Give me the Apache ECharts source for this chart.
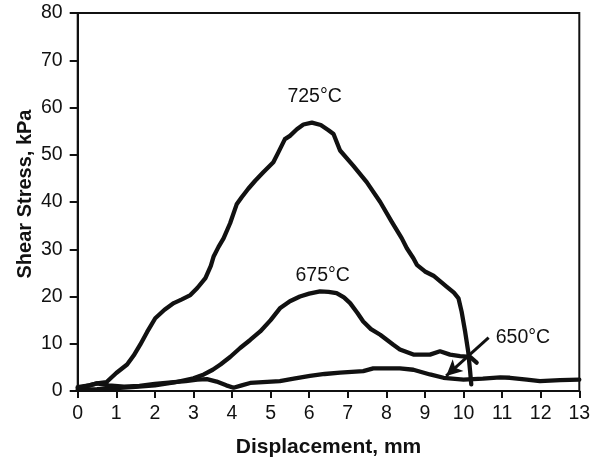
<!DOCTYPE html>
<html><head><meta charset="utf-8">
<script src="https://cdn.jsdelivr.net/npm/echarts@6/dist/echarts.min.js"></script>
<style>html,body{margin:0;padding:0;background:#fff}#c{width:594px;height:463px}</style>
</head><body><div id="c"></div>
<script>
// Data (displacement mm, shear stress kPa)
const xTicks = [0,1,2,3,4,5,6,7,8,9,10,11,12,13];
const yTicks = [0,10,20,30,40,50,60,70,80];
const s725 = [[0,0.6],[0.3,1.2],[0.5,1.6],[0.75,1.9],[1.0,3.8],[1.28,5.6],[1.45,7.5],[1.62,9.8],[1.8,12.5],[2.01,15.4],[2.25,17.2],[2.49,18.6],[2.7,19.4],[2.92,20.3],[3.1,21.8],[3.31,23.9],[3.45,26.5],[3.52,28.4],[3.65,30.5],[3.78,32.3],[3.95,35.5],[4.12,39.5],[4.25,41],[4.42,42.8],[4.6,44.5],[4.81,46.3],[5.07,48.4],[5.2,50.5],[5.37,53.3],[5.5,54],[5.68,55.4],[5.85,56.4],[6.07,56.8],[6.3,56.3],[6.5,55.2],[6.63,54.4],[6.8,50.9],[7.14,47.7],[7.49,44.2],[7.84,40],[8.14,35.8],[8.4,32.3],[8.53,30.2],[8.7,28.1],[8.79,26.7],[9.0,25.3],[9.22,24.4],[9.56,22.1],[9.75,20.8],[9.87,19.6],[9.95,16.8],[10.04,12.6],[10.12,8.4],[10.17,4.2],[10.2,1.4]];
const s675 = [[0,0.3],[0.5,0.4],[1,0.6],[1.5,0.9],[2,1.2],[2.5,1.8],[3,2.7],[3.27,3.5],[3.5,4.5],[3.7,5.6],[3.95,7.2],[4.21,9.1],[4.47,10.8],[4.73,12.6],[5.0,15],[5.24,17.5],[5.5,19],[5.76,20],[6.0,20.6],[6.28,21.1],[6.5,21],[6.71,20.7],[6.9,19.8],[7.06,18.6],[7.25,16.5],[7.4,14.7],[7.6,13.1],[7.84,11.9],[8.18,9.8],[8.35,8.8],[8.7,7.7],[9.13,7.7],[9.39,8.4],[9.65,7.7],[9.91,7.4],[10.17,7.2],[10.34,6.0]];
const s650 = [[0,0.8],[0.3,1.2],[0.5,1.6],[0.8,1.2],[1.2,0.9],[1.6,1.1],[2,1.5],[2.5,1.9],[2.8,2.1],[3.1,2.4],[3.35,2.5],[3.6,2.0],[3.85,1.2],[4.04,0.7],[4.25,1.2],[4.47,1.7],[4.8,1.9],[5.24,2.1],[5.6,2.6],[6.02,3.2],[6.4,3.6],[6.8,3.9],[7.4,4.2],[7.66,4.8],[8.0,4.8],[8.35,4.8],[8.7,4.5],[9.13,3.5],[9.48,2.8],[10.0,2.4],[10.5,2.6],[10.95,2.9],[11.2,2.8],[11.64,2.4],[11.98,2.1],[12.5,2.3],[13,2.4]];
const labelNames = ['725°C','675°C','650°C'];
const labelX = [6.14, 6.35, 11.54];
const labelY = [62.2, 24.5, 11.2];
const arrowFrom = [10.65, 11.3];
const arrowTo = [9.55, 3.2];

const chart = echarts.init(document.getElementById('c'));
const FONT = 'Liberation Sans, Arial, sans-serif';
const lineSeries = (name, data) => ({
  name, type: 'line', data, showSymbol: false, symbol: 'none', smooth: false,
  lineStyle: {color: '#111', width: 4.3, join: 'round', cap: 'round'}, animation: false, z: 3
});
chart.setOption({
  backgroundColor: '#fff',
  animation: false,
  grid: {left: 77.7, right: 14.7, top: 13, bottom: 69.7, show: true, borderColor: '#111', borderWidth: 2, backgroundColor: 'transparent'},
  xAxis: {
    type: 'value', min: xTicks[0], max: xTicks[xTicks.length-1], interval: 1,
    name: 'Displacement, mm', nameLocation: 'middle', nameGap: 46,
    nameTextStyle: {fontFamily: FONT, fontSize: 21, fontWeight: 'bold', color: '#111'},
    axisLine: {show: true, lineStyle: {color: '#111', width: 2}},
    axisTick: {show: true, inside: false, length: 7, lineStyle: {color: '#111', width: 2}},
    axisLabel: {fontFamily: FONT, fontSize: 19.5, color: '#111', margin: 13},
    splitLine: {show: false}
  },
  yAxis: {
    type: 'value', min: yTicks[0], max: yTicks[yTicks.length-1], interval: 10,
    name: 'Shear Stress, kPa', nameLocation: 'middle', nameGap: 42, nameMoveOverlap: false,
    nameTextStyle: {fontFamily: FONT, fontSize: 20, fontWeight: 'bold', color: '#111', padding: [0,0,0,16]},
    axisLine: {show: true, lineStyle: {color: '#111', width: 2}},
    axisTick: {show: true, inside: false, length: 8, lineStyle: {color: '#111', width: 2}},
    axisLabel: {fontFamily: FONT, fontSize: 19.5, color: '#111', margin: 15},
    splitLine: {show: false}
  },
  series: [
    lineSeries('725°C', s725),
    lineSeries('675°C', s675),
    Object.assign(lineSeries('650°C', s650), {
      markLine: {
        silent: true, symbol: ['none', 'arrow'], symbolSize: [12, 16],
        lineStyle: {color: '#111', width: 3, type: 'solid', opacity: 1},
        label: {show: false},
        data: [[{coord: arrowFrom}, {coord: arrowTo}]]
      }
    }),
    {
      type: 'scatter', symbolSize: 0, z: 5, silent: true,
      itemStyle: {opacity: 1, color: '#111'},
      data: labelNames.map((n, i) => ({value: [labelX[i], labelY[i]], name: n})),
      label: {show: true, position: 'inside', formatter: p => p.name, opacity: 1,
        fontFamily: FONT, fontSize: 19.5, color: '#111'}
    }
  ]
});
</script>
</body></html>
